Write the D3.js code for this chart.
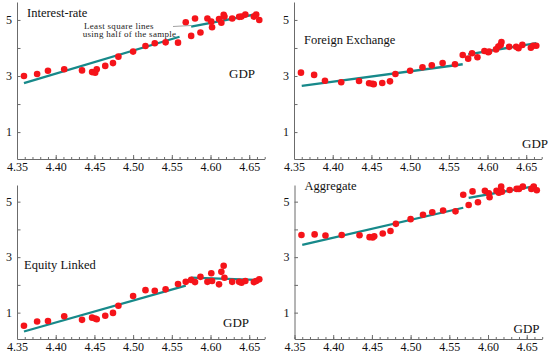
<!DOCTYPE html>
<html>
<head>
<meta charset="utf-8">
<script src="https://cdn.jsdelivr.net/npm/d3@7"></script>
<style>
  body { margin: 0; background: #fff; }
  svg { display: block; font-family: "Liberation Serif", "Times New Roman", serif; }
  .axis path, .axis line { stroke: #6b6b6b; }
  .axis text { fill: #111; font-size: 12px; font-family: "Liberation Serif", "Times New Roman", serif; }
</style>
</head>
<body>
<svg width="550" height="358"></svg>
<script>
// log GDP (same for every panel)
var gdp = [4.359, 4.376, 4.390, 4.411, 4.434, 4.447, 4.451, 4.453, 4.464, 4.474, 4.481,
  4.500, 4.516, 4.528, 4.542, 4.558, 4.568, 4.575, 4.580, 4.587, 4.596, 4.601, 4.602,
  4.611, 4.614, 4.617, 4.618, 4.628, 4.637, 4.640, 4.645, 4.656, 4.659, 4.663];

var interestRate = [3.00, 3.07, 3.19, 3.24, 3.20, 3.14, 3.12, 3.24, 3.36, 3.46, 3.69,
  3.87, 4.07, 4.17, 4.20, 4.19, 4.92, 4.43, 5.05, 4.55, 5.05, 4.94, 4.74,
  5.03, 4.90, 5.18, 5.12, 5.05, 5.11, 5.12, 5.19, 5.12, 5.19, 5.00];

var foreignExchange = [3.12, 3.04, 2.83, 2.78, 2.82, 2.74, 2.72, 2.71, 2.75, 2.81, 3.07,
  3.19, 3.31, 3.38, 3.46, 3.42, 3.75, 3.62, 3.81, 3.67, 3.89, 3.85, 3.87,
  3.95, 4.05, 4.11, 4.21, 4.04, 4.04, 3.99, 4.11, 4.01, 4.08, 4.08];

var equityLinked = [0.53, 0.68, 0.70, 0.87, 0.74, 0.82, 0.79, 0.76, 0.89, 0.99, 1.25,
  1.60, 1.81, 1.79, 1.84, 2.03, 2.11, 2.18, 2.10, 2.29, 2.11, 2.42, 2.14,
  2.02, 2.47, 2.69, 2.26, 2.11, 2.11, 2.08, 2.14, 2.10, 2.14, 2.20];

var aggregate = [3.80, 3.82, 3.78, 3.80, 3.79, 3.72, 3.71, 3.75, 3.85, 3.94, 4.20,
  4.37, 4.53, 4.62, 4.68, 4.65, 5.25, 4.88, 5.37, 4.98, 5.39, 5.30, 5.16,
  5.39, 5.32, 5.54, 5.36, 5.42, 5.46, 5.46, 5.54, 5.46, 5.54, 5.41];

// least square lines, first half / second half: [gdp, value] end points
var fitInterest = [[[4.359, 2.75], [4.560, 4.40]], [[4.575, 4.76], [4.660, 5.21]]];
var fitForeign  = [[[4.360, 2.65], [4.568, 3.42]], [[4.575, 3.77], [4.663, 4.17]]];
var fitEquity   = [[[4.359, 0.32], [4.568, 1.97]], [[4.575, 2.26], [4.663, 2.18]]];
var fitAggr     = [[[4.360, 3.44], [4.568, 4.78]], [[4.575, 5.14], [4.663, 5.57]]];

var xMajor = [4.35, 4.40, 4.45, 4.50, 4.55, 4.60, 4.65];
var yTicks = [1, 2, 3, 4, 5];
var yLabels = [1, 3, 5];

var panels = [
  { title: "Interest-rate", values: interestRate, fit: fitInterest, left: 17, top: 2, bottom: 159,
    yDom: [0.04, 5.64], titlePos: [10, 15], gdpPos: [212, 75.5] },
  { title: "Foreign Exchange", values: foreignExchange, fit: fitForeign, left: 294, top: 2, bottom: 159,
    yDom: [0.04, 5.64], titlePos: [10, 42], gdpPos: [228, 145.5] },
  { title: "Equity Linked", values: equityLinked, fit: fitEquity, left: 17, top: 185, bottom: 339,
    yDom: [0.05, 5.6], titlePos: [7, 84], gdpPos: [206, 142] },
  { title: "Aggregate", values: aggregate, fit: fitAggr, left: 294.5, top: 185, bottom: 339,
    yDom: [0.05, 5.6], titlePos: [10, 5], gdpPos: [219, 147.5] }
];

var svg = d3.select("svg");
var teal = "#17898a";

panels.forEach(function (p, i) {
  var x = d3.scaleLinear().domain([4.35, 4.67]).range([p.left, p.left + 247.7]);
  var y = d3.scaleLinear().domain(p.yDom).range([p.bottom, p.top]);

  var g = svg.append("g");

  // minor ticks on x
  g.append("g").attr("class", "axis")
    .attr("transform", "translate(0," + p.bottom + ")")
    .call(d3.axisBottom(x).tickValues(d3.range(4.35, 4.6701, 0.01)).tickSize(-2).tickFormat(""))
    .call(function (a) { a.select(".domain").remove(); });

  g.append("g").attr("class", "axis")
    .attr("transform", "translate(0," + p.bottom + ")")
    .call(d3.axisBottom(x).tickValues(xMajor).tickSizeInner(-4).tickSizeOuter(0).tickPadding(3.5)
      .tickFormat(d3.format(".2f")));

  g.append("g").attr("class", "axis")
    .attr("transform", "translate(" + p.left + ",0)")
    .call(d3.axisLeft(y).tickValues(yTicks).tickSizeInner(-3.5).tickSizeOuter(0).tickPadding(5)
      .tickFormat(function (d) { return yLabels.indexOf(d) >= 0 ? d : ""; }));

  var line = d3.line().x(function (d) { return x(d[0]); }).y(function (d) { return y(d[1]); });
  g.selectAll("path.fit").data(p.fit).enter().append("path")
    .attr("class", "fit")
    .attr("d", line)
    .attr("fill", "none")
    .attr("stroke", teal)
    .attr("stroke-width", 2.3);

  g.selectAll("circle").data(p.values).enter().append("circle")
    .attr("cx", function (d, j) { return x(gdp[j]); })
    .attr("cy", function (d) { return y(d); })
    .attr("r", 3.3)
    .attr("fill", "#f5141a");

  g.append("text")
    .attr("x", p.left + p.titlePos[0]).attr("y", p.top + p.titlePos[1])
    .attr("font-size", 12.5).attr("fill", "#111")
    .text(p.title);

  g.append("text")
    .attr("x", p.left + p.gdpPos[0]).attr("y", p.top + p.gdpPos[1])
    .attr("font-size", 13).attr("fill", "#111")
    .text("GDP");

  if (i === 0) {
    g.append("text").attr("x", 84).attr("y", 28.5)
      .attr("font-size", 9).attr("letter-spacing", 0.3).attr("fill", "#222")
      .text("Least square lines");
    g.append("text").attr("x", 82.7).attr("y", 37)
      .attr("font-size", 9).attr("letter-spacing", 0.3).attr("fill", "#222")
      .text("using half of the sample");
    g.append("line")
      .attr("x1", 173).attr("y1", 26.5).attr("x2", x(4.575)).attr("y2", 25.5)
      .attr("stroke", "#8a8a8a").attr("stroke-width", 0.8);
  }
});
</script>
</body>
</html>
